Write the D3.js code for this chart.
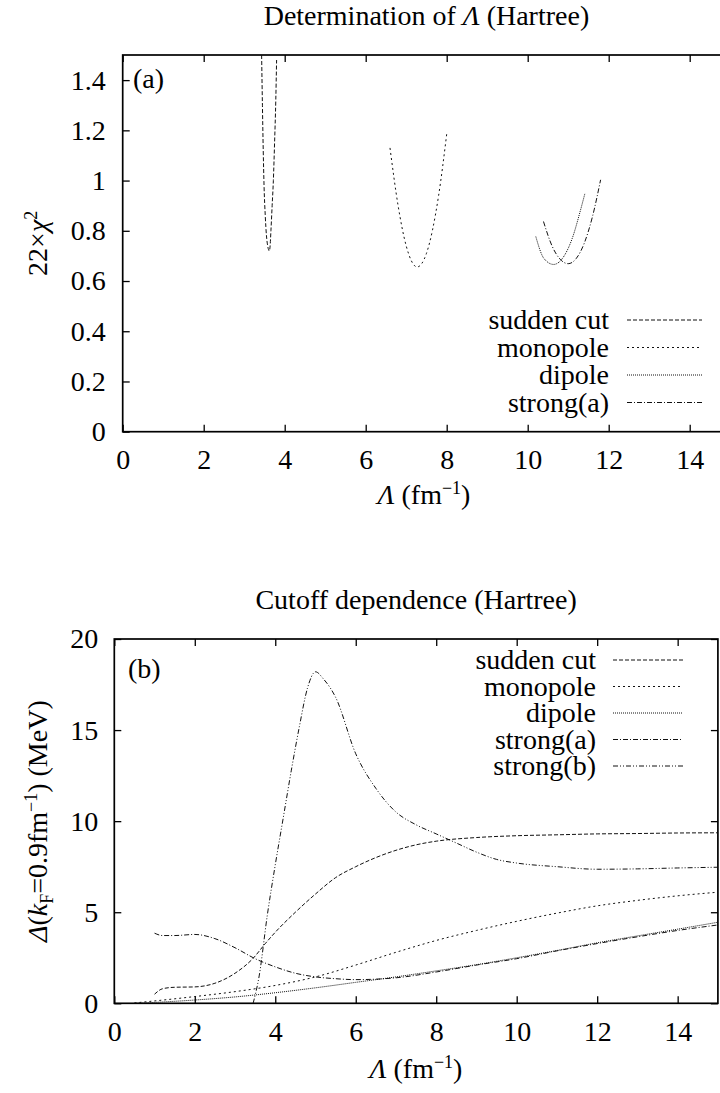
<!DOCTYPE html>
<html><head><meta charset="utf-8">
<script src="https://cdn.jsdelivr.net/npm/d3@7"></script>
<style>
@font-face{font-family:"SerifX";src:local("Liberation Serif"),local("LiberationSerif"),local("LiberationSerif-Regular");font-style:normal}
@font-face{font-family:"SerifX";src:local("Liberation Serif Italic"),local("LiberationSerif-Italic");font-style:italic}
body{margin:0;background:#fff}svg{display:block}
svg text{font-family:"Liberation Serif","SerifX","DejaVu Serif",Times,serif !important}
</style>
</head><body>
<svg id="c" width="720" height="1093"></svg>
<script>
// ---------- shared ----------
const X_TICKS = [0, 2, 4, 6, 8, 10, 12, 14];
const X_TICK_LABELS = ["0", "2", "4", "6", "8", "10", "12", "14"];

// ---------- panel (a) data ----------
const Y_TICKS_A = [0, 0.2, 0.4, 0.6, 0.8, 1, 1.2, 1.4];
const Y_TICK_LABELS_A = ["0", "0.2", "0.4", "0.6", "0.8", "1", "1.2", "1.4"];
const A_SERIES = ["sudden cut", "monopole", "dipole", "strong(a)"];
const a_sudden_L = [3.43, 3.45, 3.47, 3.49, 3.52, 3.55, 3.58, 3.62, 3.64, 3.66, 3.69, 3.72, 3.75, 3.78, 3.80];
const a_sudden_V = [1.50, 1.30, 1.12, 0.98, 0.86, 0.78, 0.74, 0.72, 0.74, 0.80, 0.90, 1.00, 1.15, 1.32, 1.48];
const a_mono_L = [6.60, 6.80, 7.00, 7.27, 7.50, 7.80, 8.00];
const a_mono_V = [1.13, 0.90, 0.74, 0.656, 0.71, 0.94, 1.185];
const a_dip_L = [10.20, 10.40, 10.64, 10.90, 11.10, 11.30, 11.41];
const a_dip_V = [0.777, 0.69, 0.666, 0.70, 0.77, 0.88, 0.947];
const a_strA_L = [10.39, 10.60, 10.80, 11.00, 11.20, 11.40, 11.60, 11.80];
const a_strA_V = [0.837, 0.74, 0.687, 0.669, 0.69, 0.752, 0.857, 1.003];

// ---------- panel (b) data ----------
const Y_TICKS_B = [0, 5, 10, 15, 20];
const Y_TICK_LABELS_B = ["0", "5", "10", "15", "20"];
const B_SERIES = ["sudden cut", "monopole", "dipole", "strong(a)", "strong(b)"];
const b_sudden_L = [1.0, 1.2, 1.5, 2.0, 2.5, 3.0, 3.45, 3.76, 4.0, 4.5, 5.0, 5.5, 6.0, 6.5, 7.0, 7.5, 8.0, 9.0, 10, 11, 12, 13, 14, 15];
const b_sudden_V = [0.5, 0.8, 0.88, 0.9, 1.1, 1.65, 2.47, 3.3, 3.9, 5.0, 6.0, 6.9, 7.5, 8.0, 8.4, 8.7, 8.9, 9.1, 9.2, 9.25, 9.3, 9.32, 9.35, 9.36];
const b_mono_L = [0.5, 1, 2, 3, 4, 5, 6, 7, 8, 9, 10, 11, 12, 13, 14, 15];
const b_mono_V = [0.02, 0.13, 0.37, 0.64, 0.98, 1.45, 2.1, 2.8, 3.45, 4.0, 4.5, 4.95, 5.35, 5.65, 5.9, 6.1];
const b_dip_L = [0.5, 1, 2, 3, 4, 5, 6, 7, 8, 9, 10, 11, 12, 13, 14, 15];
const b_dip_V = [0.0, 0.05, 0.18, 0.35, 0.58, 0.85, 1.15, 1.45, 1.78, 2.12, 2.5, 2.9, 3.32, 3.7, 4.07, 4.45];
const b_strA_L = [1.0, 1.2, 1.5, 2.0, 2.5, 3.0, 3.5, 4.0, 4.5, 5.0, 5.5, 6.0, 7.0, 8.0, 9.0, 10, 11, 12, 13, 14, 15];
const b_strA_V = [3.85, 3.72, 3.72, 3.78, 3.55, 3.05, 2.45, 2.0, 1.65, 1.45, 1.35, 1.3, 1.4, 1.72, 2.1, 2.45, 2.88, 3.28, 3.65, 4.0, 4.3];
const b_strB_L = [3.45, 3.6, 3.8, 4.0, 4.2, 4.4, 4.6, 4.8, 5.0, 5.2, 5.5, 6.0, 6.5, 7.0, 7.5, 8.0, 8.5, 9.0, 9.5, 10, 11, 12, 13, 14, 15];
const b_strB_V = [0.0, 1.5, 4.8, 7.6, 10.2, 12.8, 15.2, 17.3, 18.2, 17.8, 16.8, 13.7, 11.8, 10.5, 9.8, 9.3, 8.8, 8.3, 7.9, 7.7, 7.5, 7.36, 7.38, 7.43, 7.47];

const DASH = {
  "sudden cut": "4,2",
  "monopole": "2,3",
  "dipole": "1,1",
  "strong(a)": "5,2,1,2",
  "strong(b)": "5,2,1,2,1,2"
};
const FONT = '"Liberation Serif", "SerifX", "DejaVu Serif", Times, serif';
const FS = 28;
const FS_SUP = 18;

const svg = d3.select("#c");
const zip = (L, V) => L.map((x, i) => [x, V[i]]);

function panel(cfg) {
  const x = d3.scaleLinear().domain([0, 15]).range([cfg.left, cfg.right]);
  const y = d3.scaleLinear().domain(cfg.ydom).range([cfg.bottom, cfg.top]);
  const g = svg.append("g");
  const clipId = "clip" + cfg.id;
  g.append("clipPath").attr("id", clipId).append("rect")
    .attr("x", cfg.left).attr("y", cfg.top).attr("width", cfg.right - cfg.left).attr("height", cfg.bottom - cfg.top);

  const styleAxis = (sel) => {
    sel.attr("font-family", FONT).attr("font-size", FS);
    sel.select(".domain").remove();
    sel.selectAll("line").attr("stroke", "#000").attr("stroke-width", 1.3);
    sel.selectAll("text").attr("font-family", FONT).attr("font-size", FS).attr("fill", "#000");
  };
  g.append("g").attr("transform", `translate(0,${cfg.bottom})`)
    .call(d3.axisBottom(x).tickValues(X_TICKS).tickFormat((d, i) => X_TICK_LABELS[i]).tickSizeInner(-7).tickSizeOuter(0).tickPadding(cfg.xpad))
    .call(styleAxis);
  g.append("g").attr("transform", `translate(0,${cfg.top})`)
    .call(d3.axisTop(x).tickValues(X_TICKS).tickFormat("").tickSizeInner(-7).tickSizeOuter(0))
    .call(styleAxis);
  g.append("g").attr("transform", `translate(${cfg.left},0)`)
    .call(d3.axisLeft(y).tickValues(cfg.yticks).tickFormat((d, i) => cfg.ylabels[i]).tickSizeInner(-7).tickSizeOuter(0).tickPadding(cfg.ypad))
    .call(styleAxis);
  g.append("g").attr("transform", `translate(${cfg.right},0)`)
    .call(d3.axisRight(y).tickValues(cfg.yticks).tickFormat("").tickSizeInner(-7).tickSizeOuter(0))
    .call(styleAxis);

  g.append("rect").attr("x", cfg.left).attr("y", cfg.top)
    .attr("width", cfg.right - cfg.left).attr("height", cfg.bottom - cfg.top)
    .attr("fill", "none").attr("stroke", "#000").attr("stroke-width", 1.7);

  const line = d3.line().x(d => x(d[0])).y(d => y(d[1])).curve(d3.curveMonotoneX);
  const lines = g.append("g").attr("clip-path", `url(#${clipId})`);
  cfg.series.forEach(s => {
    lines.append("path").datum(s.pts).attr("d", line)
      .attr("fill", "none").attr("stroke", "#111").attr("stroke-width", 1)
      .attr("stroke-dasharray", DASH[s.name]);
  });

  cfg.legendNames.forEach((name, i) => {
    const ly = cfg.legY + i * cfg.legDy;
    g.append("text").attr("x", cfg.legTextX).attr("y", ly).attr("dy", "0.33em")
      .attr("text-anchor", "end").attr("font-family", FONT).attr("font-size", FS).text(name);
    g.append("line").attr("x1", cfg.legL1).attr("x2", cfg.legL2).attr("y1", ly).attr("y2", ly)
      .attr("stroke", "#111").attr("stroke-width", 1).attr("stroke-dasharray", DASH[name]);
  });

  g.append("text").attr("x", cfg.tagX).attr("y", cfg.tagY).attr("dy", "0.33em")
    .attr("font-family", FONT).attr("font-size", FS).text(cfg.tag);

  const t = g.append("text").attr("x", (cfg.left + cfg.right) / 2).attr("y", cfg.titleY)
    .attr("text-anchor", "middle").attr("font-family", FONT).attr("font-size", FS);
  cfg.title(t);

  const xl = g.append("text").attr("x", cfg.xlabX).attr("y", cfg.xlabY)
    .attr("text-anchor", "middle").attr("font-family", FONT).attr("font-size", FS);
  xl.append("tspan").attr("font-style", "italic").text("Λ");
  xl.append("tspan").text(" (fm");
  xl.append("tspan").attr("font-size", FS_SUP).attr("dy", -10).text("−1");
  xl.append("tspan").attr("dy", 10).text(")");

  const yl = g.append("text").attr("transform", `translate(${cfg.ylabX},${(cfg.top + cfg.bottom) / 2}) rotate(-90)`)
    .attr("text-anchor", "middle").attr("font-family", FONT).attr("font-size", FS);
  cfg.ylabel(yl);
}

panel({
  id: "a", left: 122.7, right: 730.2, top: 55, bottom: 431.7, ydom: [0, 1.5],
  yticks: Y_TICKS_A, ylabels: Y_TICK_LABELS_A, xpad: 17.5, ypad: 17,
  series: [
    {name: "sudden cut", pts: zip(a_sudden_L, a_sudden_V)},
    {name: "monopole", pts: zip(a_mono_L, a_mono_V)},
    {name: "dipole", pts: zip(a_dip_L, a_dip_V)},
    {name: "strong(a)", pts: zip(a_strA_L, a_strA_V)}
  ],
  legendNames: A_SERIES, legY: 320, legDy: 27.5, legTextX: 609, legL1: 627, legL2: 702,
  tag: "(a)", tagX: 133, tagY: 79,
  titleY: 25,
  title: t => { t.append("tspan").text("Determination of "); t.append("tspan").attr("font-style", "italic").text("Λ"); t.append("tspan").text(" (Hartree)"); },
  xlabX: 424, xlabY: 504, ylabX: 47,
  ylabel: t => {
    t.append("tspan").text("22×");
    t.append("tspan").attr("font-style", "italic").text("χ");
    t.append("tspan").attr("font-size", FS_SUP).attr("dy", -10).text("2");
  }
});

panel({
  id: "b", left: 114.3, right: 717.9, top: 639, bottom: 1003.3, ydom: [0, 20],
  yticks: Y_TICKS_B, ylabels: Y_TICK_LABELS_B, xpad: 18, ypad: 16,
  series: [
    {name: "sudden cut", pts: zip(b_sudden_L, b_sudden_V)},
    {name: "monopole", pts: zip(b_mono_L, b_mono_V)},
    {name: "dipole", pts: zip(b_dip_L, b_dip_V)},
    {name: "strong(a)", pts: zip(b_strA_L, b_strA_V)},
    {name: "strong(b)", pts: zip(b_strB_L, b_strB_V)}
  ],
  legendNames: B_SERIES, legY: 660, legDy: 26.5, legTextX: 596, legL1: 613, legL2: 683,
  tag: "(b)", tagX: 128, tagY: 669,
  titleY: 609,
  title: t => { t.append("tspan").text("Cutoff dependence (Hartree)"); },
  xlabX: 416, xlabY: 1078, ylabX: 47,
  ylabel: t => {
    t.append("tspan").attr("font-style", "italic").text("Δ");
    t.append("tspan").text("(");
    t.append("tspan").attr("font-style", "italic").text("k");
    t.append("tspan").attr("font-size", FS_SUP).attr("dy", 6).text("F");
    t.append("tspan").attr("dy", -6).text("=0.9fm");
    t.append("tspan").attr("font-size", FS_SUP).attr("dy", -10).text("−1");
    t.append("tspan").attr("dy", 10).text(") (MeV)");
  }
});
</script>
</body></html>
